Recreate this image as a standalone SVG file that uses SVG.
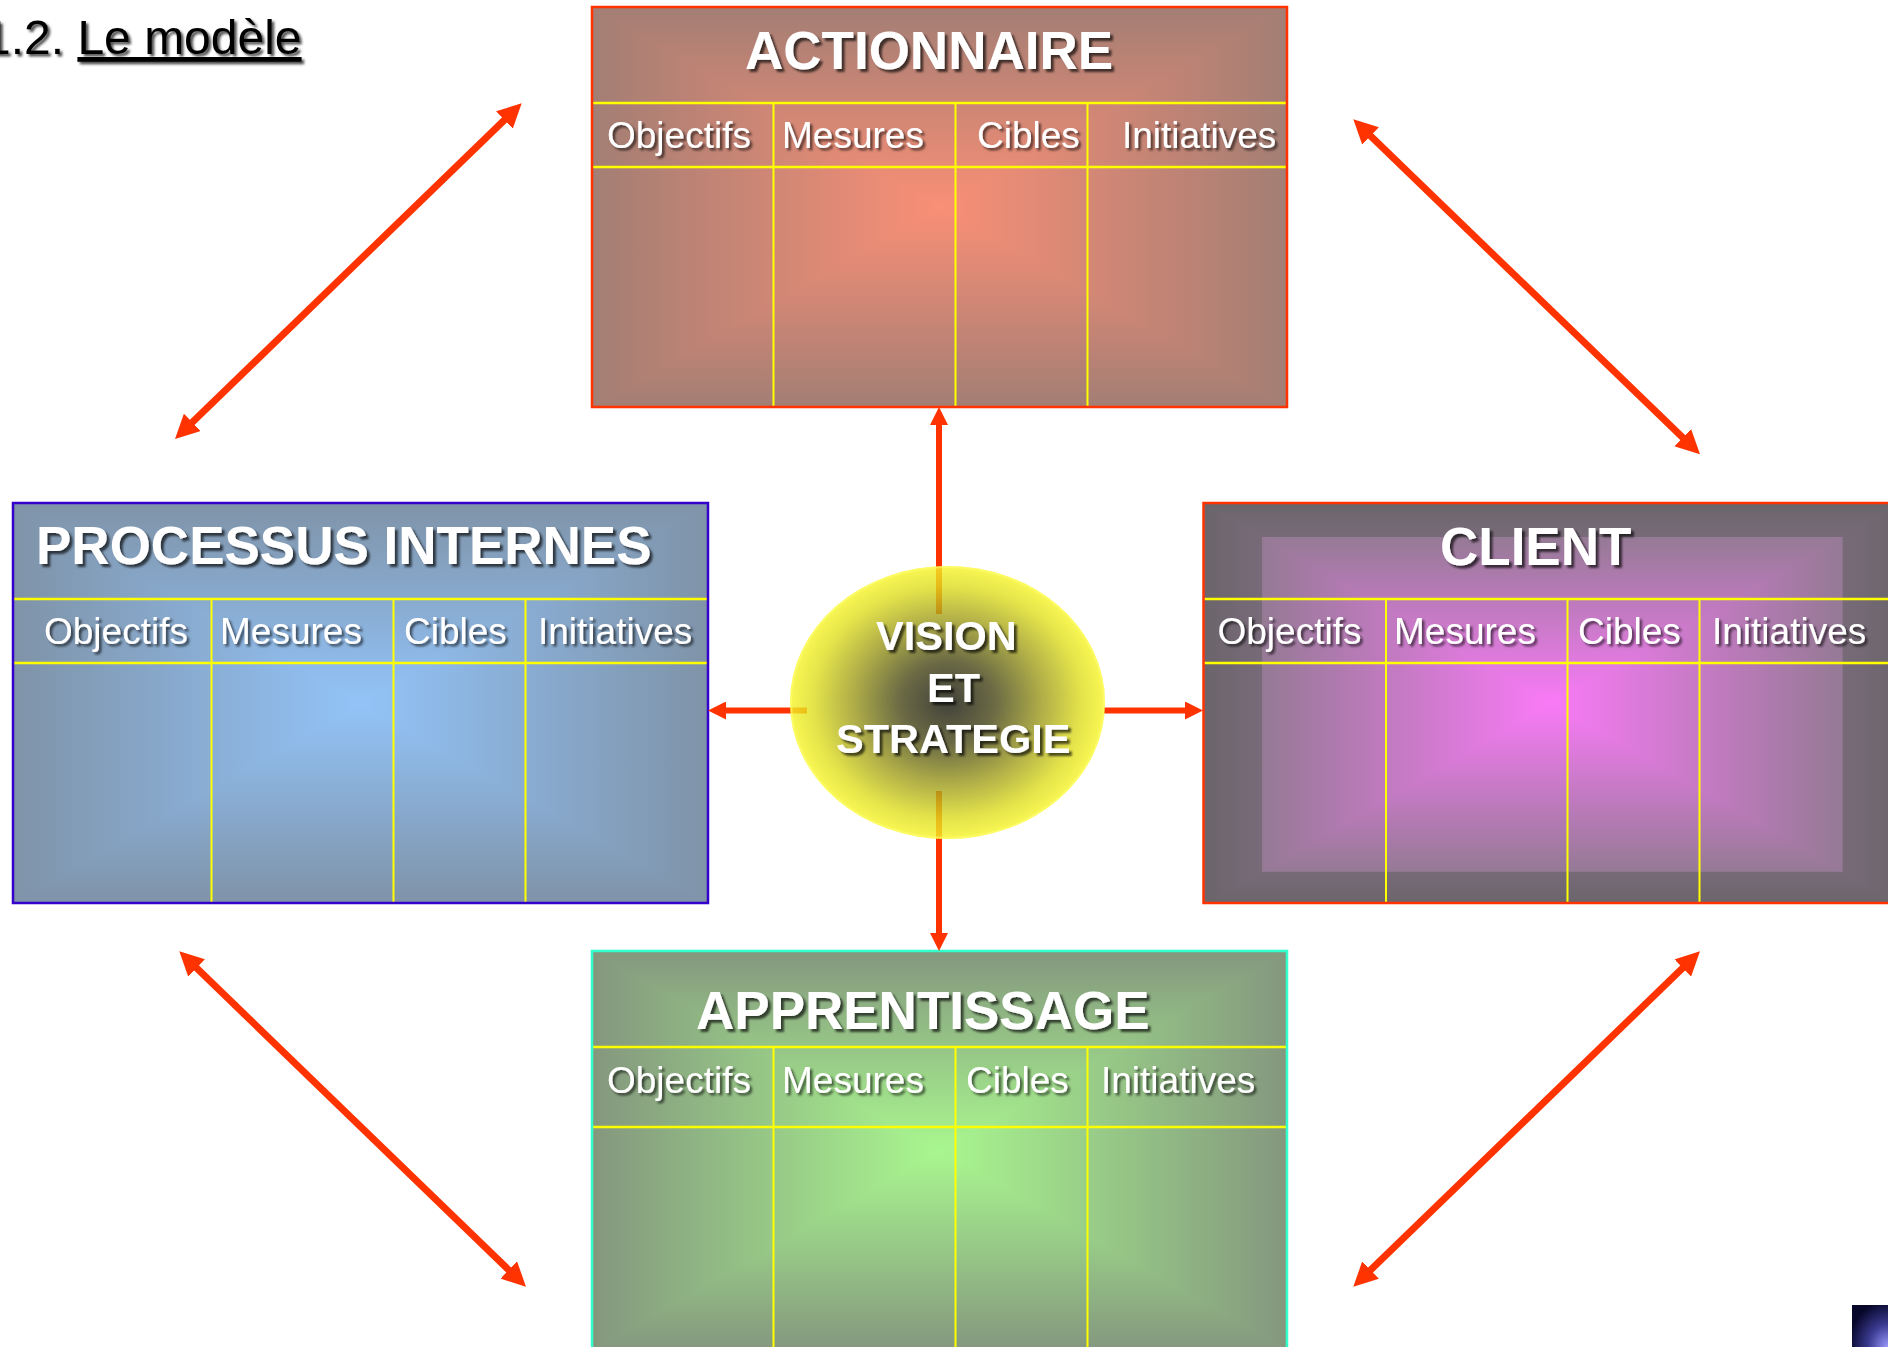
<svg xmlns="http://www.w3.org/2000/svg" width="1888" height="1347" viewBox="0 0 1888 1347">
  <style>
    .lbl { font-family: "Liberation Sans", Arial, sans-serif; font-size: 37px; fill: #ffffff; filter: url(#ts); }
    .ttl { font-family: "Liberation Sans", Arial, sans-serif; font-size: 53px; font-weight: bold; fill: #ffffff; filter: url(#tsBig); }
    .core { font-family: "Liberation Sans", Arial, sans-serif; font-size: 41.5px; font-weight: bold; fill: #ffffff; filter: url(#tsBig); }
    .grid { stroke: #ffff00; stroke-width: 2; fill: none; }
    .conn { stroke: #ff3300; fill: none; stroke-linecap: butt; }
    .blend { mix-blend-mode: darken; }
    .iso { isolation: isolate; }
  </style>
  <defs>
    <!-- soft shadows behind lettering -->
    <filter id="ts" x="-10%" y="-30%" width="130%" height="170%">
      <feDropShadow dx="2.5" dy="2.5" stdDeviation="1" flood-color="#000000" flood-opacity="0.6"/>
    </filter>
    <filter id="tsBig" x="-10%" y="-30%" width="130%" height="170%">
      <feDropShadow dx="3" dy="3" stdDeviation="1.2" flood-color="#000000" flood-opacity="0.65"/>
    </filter>
    <filter id="tsHead" x="-10%" y="-30%" width="130%" height="170%">
      <feDropShadow dx="2.5" dy="2.5" stdDeviation="1.3" flood-color="#333333" flood-opacity="0.85"/>
    </filter>

    <!-- arrowheads -->
    <marker id="headS" viewBox="0 0 10 10" refX="4" refY="5" markerWidth="18" markerHeight="18" markerUnits="userSpaceOnUse" orient="auto-start-reverse">
      <path d="M0,0 L10,5 L0,10 z" fill="#ff3300"/>
    </marker>
    <marker id="headL" viewBox="0 0 10 10" refX="4" refY="5" markerWidth="24" markerHeight="24" markerUnits="userSpaceOnUse" orient="auto-start-reverse">
      <path d="M0,0 L10,5 L0,10 z" fill="#ff3300"/>
    </marker>

    <!-- rectangular centre-out fills: horizontal and vertical ramps, combined with darken -->
    <linearGradient id="actH" x1="0" y1="0" x2="1" y2="0">
      <stop offset="0" stop-color="#a37e74"/><stop offset="0.5" stop-color="#f98f76"/><stop offset="1" stop-color="#a37e74"/>
    </linearGradient>
    <linearGradient id="actV" x1="0" y1="0" x2="0" y2="1">
      <stop offset="0" stop-color="#a37e74"/><stop offset="0.5" stop-color="#f98f76"/><stop offset="1" stop-color="#a37e74"/>
    </linearGradient>

    <linearGradient id="proH" x1="0" y1="0" x2="1" y2="0">
      <stop offset="0" stop-color="#7f93a8"/><stop offset="0.5" stop-color="#92c3f8"/><stop offset="1" stop-color="#7f93a8"/>
    </linearGradient>
    <linearGradient id="proV" x1="0" y1="0" x2="0" y2="1">
      <stop offset="0" stop-color="#7f93a8"/><stop offset="0.5" stop-color="#92c3f8"/><stop offset="1" stop-color="#7f93a8"/>
    </linearGradient>

    <linearGradient id="cliH" x1="0" y1="0" x2="1" y2="0">
      <stop offset="0" stop-color="#6b656b"/><stop offset="0.084" stop-color="#786a78"/>
      <stop offset="0.085" stop-color="#957a95"/><stop offset="0.5" stop-color="#f97af7"/>
      <stop offset="0.919" stop-color="#957a95"/><stop offset="0.92" stop-color="#786a78"/>
      <stop offset="1" stop-color="#6b656b"/>
    </linearGradient>
    <linearGradient id="cliV" x1="0" y1="0" x2="0" y2="1">
      <stop offset="0" stop-color="#6b656b"/><stop offset="0.084" stop-color="#786a78"/>
      <stop offset="0.085" stop-color="#957a95"/><stop offset="0.5" stop-color="#f97af7"/>
      <stop offset="0.921" stop-color="#957a95"/><stop offset="0.922" stop-color="#786a78"/>
      <stop offset="1" stop-color="#6b656b"/>
    </linearGradient>

    <linearGradient id="appH" x1="0" y1="0" x2="1" y2="0">
      <stop offset="0" stop-color="#84977e"/><stop offset="0.5" stop-color="#a9f78f"/><stop offset="1" stop-color="#84977e"/>
    </linearGradient>
    <linearGradient id="appV" x1="0" y1="0" x2="0" y2="1">
      <stop offset="0" stop-color="#84977e"/><stop offset="0.5" stop-color="#a9f78f"/><stop offset="1" stop-color="#84977e"/>
    </linearGradient>

    <!-- centre oval, dark core fading to yellow -->
    <radialGradient id="coreFill" cx="0.5" cy="0.5" r="0.5">
      <stop offset="0" stop-color="#131309"/>
      <stop offset="0.3" stop-color="#464516"/>
      <stop offset="0.6" stop-color="#9c9a1a"/>
      <stop offset="0.85" stop-color="#dedc1d"/>
      <stop offset="1" stop-color="#f6f527"/>
    </radialGradient>

    <radialGradient id="cornerFill" cx="1" cy="1" r="1.1">
      <stop offset="0" stop-color="#9a9aff"/>
      <stop offset="0.5" stop-color="#3a3a90"/>
      <stop offset="1" stop-color="#07072a"/>
    </radialGradient>
  </defs>

  <rect x="0" y="0" width="1888" height="1347" fill="#ffffff"/>

  <!-- heading -->
  <g id="heading">
    <text x="-16" y="54" font-family="'Liberation Sans', Arial, sans-serif" font-size="48" fill="#000000" filter="url(#tsHead)">1.2. <tspan text-decoration="underline">Le modèle</tspan></text>
  </g>

  <!-- ACTIONNAIRE -->
  <g id="actionnaire">
    <g class="iso">
      <rect x="592" y="7" width="695" height="400" fill="url(#actH)"/>
      <rect x="592" y="7" width="695" height="400" fill="url(#actV)" class="blend"/>
    </g>
    <g class="grid">
      <line x1="592" y1="103" x2="1287" y2="103" stroke-width="2.5"/>
      <line x1="592" y1="167" x2="1287" y2="167" stroke-width="2.5"/>
      <line x1="773.5" y1="103" x2="773.5" y2="407"/>
      <line x1="955.5" y1="103" x2="955.5" y2="407"/>
      <line x1="1087.5" y1="103" x2="1087.5" y2="407"/>
    </g>
    <rect x="592" y="7" width="695" height="400" fill="none" stroke="#ff3300" stroke-width="2.5"/>
    <text class="ttl" x="745" y="69">ACTIONNAIRE</text>
    <text class="lbl" x="607" y="148">Objectifs</text>
    <text class="lbl" x="782" y="148">Mesures</text>
    <text class="lbl" x="977" y="148">Cibles</text>
    <text class="lbl" x="1122" y="148">Initiatives</text>
  </g>

  <!-- PROCESSUS INTERNES -->
  <g id="processus">
    <g class="iso">
      <rect x="13" y="503" width="695" height="400" fill="url(#proH)"/>
      <rect x="13" y="503" width="695" height="400" fill="url(#proV)" class="blend"/>
    </g>
    <g class="grid">
      <line x1="13" y1="599" x2="708" y2="599" stroke-width="2.5"/>
      <line x1="13" y1="663" x2="708" y2="663" stroke-width="2.5"/>
      <line x1="211.5" y1="599" x2="211.5" y2="903"/>
      <line x1="393.5" y1="599" x2="393.5" y2="903"/>
      <line x1="525.5" y1="599" x2="525.5" y2="903"/>
    </g>
    <rect x="13" y="503" width="695" height="400" fill="none" stroke="#3300cc" stroke-width="2.5"/>
    <text class="ttl" x="36" y="564">PROCESSUS INTERNES</text>
    <text class="lbl" x="44" y="644">Objectifs</text>
    <text class="lbl" x="220" y="644">Mesures</text>
    <text class="lbl" x="404" y="644">Cibles</text>
    <text class="lbl" x="538" y="644">Initiatives</text>
  </g>

  <!-- CLIENT -->
  <g id="client">
    <g class="iso">
      <rect x="1203.5" y="503" width="695" height="400" fill="url(#cliH)"/>
      <rect x="1203.5" y="503" width="695" height="400" fill="url(#cliV)" class="blend"/>
    </g>
    <g class="grid">
      <line x1="1203.5" y1="599" x2="1898.5" y2="599" stroke-width="2.5"/>
      <line x1="1203.5" y1="663" x2="1898.5" y2="663" stroke-width="2.5"/>
      <line x1="1386" y1="599" x2="1386" y2="903"/>
      <line x1="1567.5" y1="599" x2="1567.5" y2="903"/>
      <line x1="1699.5" y1="599" x2="1699.5" y2="903"/>
    </g>
    <rect x="1203.5" y="503" width="695" height="400" fill="none" stroke="#ff3300" stroke-width="2.5"/>
    <text class="ttl" x="1440" y="565">CLIENT</text>
    <text class="lbl" x="1217.5" y="644">Objectifs</text>
    <text class="lbl" x="1394" y="644">Mesures</text>
    <text class="lbl" x="1578" y="644">Cibles</text>
    <text class="lbl" x="1712" y="644">Initiatives</text>
  </g>

  <!-- APPRENTISSAGE -->
  <g id="apprentissage">
    <g class="iso">
      <rect x="592" y="951" width="695" height="400" fill="url(#appH)"/>
      <rect x="592" y="951" width="695" height="400" fill="url(#appV)" class="blend"/>
    </g>
    <g class="grid">
      <line x1="592" y1="1047" x2="1287" y2="1047" stroke-width="2.5"/>
      <line x1="592" y1="1127" x2="1287" y2="1127" stroke-width="2.5"/>
      <line x1="773.5" y1="1047" x2="773.5" y2="1351"/>
      <line x1="955.5" y1="1047" x2="955.5" y2="1351"/>
      <line x1="1087.5" y1="1047" x2="1087.5" y2="1351"/>
    </g>
    <rect x="592" y="951" width="695" height="400" fill="none" stroke="#33ffcc" stroke-width="2.5"/>
    <text class="ttl" x="696" y="1029">APPRENTISSAGE</text>
    <text class="lbl" x="607" y="1093">Objectifs</text>
    <text class="lbl" x="782" y="1093">Mesures</text>
    <text class="lbl" x="966" y="1093">Cibles</text>
    <text class="lbl" x="1101" y="1093">Initiatives</text>
  </g>

  <!-- connectors -->
  <g id="connectors" class="conn">
    <!-- from the centre to each perspective -->
    <line x1="939" y1="614" x2="939" y2="417.8" stroke-width="6" marker-end="url(#headS)"/>
    <line x1="939" y1="791" x2="939" y2="940.2" stroke-width="6" marker-end="url(#headS)"/>
    <line x1="807" y1="710.5" x2="718.8" y2="710.5" stroke-width="6" marker-end="url(#headS)"/>
    <line x1="1104" y1="710.5" x2="1192.2" y2="710.5" stroke-width="6" marker-end="url(#headS)"/>
    <!-- links between neighbouring perspectives -->
    <line x1="185.35" y1="429" x2="511.35" y2="113.3" stroke-width="7" marker-start="url(#headL)" marker-end="url(#headL)"/>
    <line x1="1363.65" y1="129.3" x2="1689.65" y2="444.3" stroke-width="7" marker-start="url(#headL)" marker-end="url(#headL)"/>
    <line x1="189.65" y1="961.3" x2="515.65" y2="1276.7" stroke-width="7" marker-start="url(#headL)" marker-end="url(#headL)"/>
    <line x1="1689.65" y1="961.3" x2="1363.65" y2="1276.7" stroke-width="7" marker-start="url(#headL)" marker-end="url(#headL)"/>
  </g>

  <!-- VISION ET STRATEGIE -->
  <g id="vision">
    <ellipse cx="947.5" cy="702.5" rx="157.5" ry="136.5" fill="url(#coreFill)" fill-opacity="0.8"/>
    <ellipse cx="947.5" cy="702.5" rx="156.5" ry="135.5" fill="none" stroke="#ffff70" stroke-width="2" stroke-opacity="0.6"/>
    <text class="core" x="876" y="650">VISION</text>
    <text class="core" x="927" y="702">ET</text>
    <text class="core" x="836" y="753">STRATEGIE</text>
  </g>

  <!-- corner badge -->
  <rect x="1852" y="1305" width="36" height="42" fill="url(#cornerFill)"/>
</svg>
